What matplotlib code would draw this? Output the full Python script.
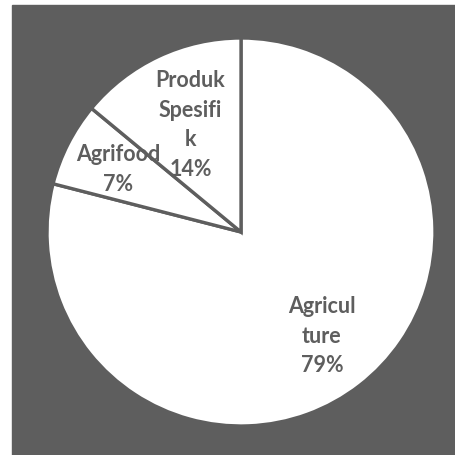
import numpy as np
import matplotlib

matplotlib.use("Agg")
import matplotlib.pyplot as plt  # noqa: E402
from matplotlib.patches import Rectangle  # noqa: E402

# data, clockwise from 12 o'clock
labels = ["Agricul\nture", "Agrifood", "Produk\nSpesifi\nk"]
shares = [79, 7, 14]

GRAY = "#5e5e5e"
LABEL_R = [0.68, 0.71, 0.61]  # radial position of each label (fraction of radius)

fig = plt.figure(figsize=(4.55, 4.55), dpi=100, facecolor="white")
# dark chart area
fig.add_artist(Rectangle((12 / 455, 0), 443 / 455, 450 / 455,
                         transform=fig.transFigure, color=GRAY, zorder=0))

ax = fig.add_axes([12 / 455, 0, 443 / 455, 450 / 455])
wedges, _ = ax.pie(shares, startangle=90, counterclock=False,
                   colors=["white"] * len(shares),
                   wedgeprops=dict(edgecolor=GRAY, linewidth=2.4))

for w, lab, v, r in zip(wedges, labels, shares, LABEL_R):
    mid = np.deg2rad((w.theta1 + w.theta2) / 2)
    ax.text(r * np.cos(mid), r * np.sin(mid), f"{lab}\n{v}%",
            ha="center", va="center", color=GRAY, fontsize=15.5,
            fontweight="bold", family=["Lato", "DejaVu Sans"],
            linespacing=1.5, zorder=5)

ax.set_aspect("auto")
ax.set_xlim(-229 / 194, 214 / 194)
ax.set_ylim(-223 / 194, 227 / 194)
ax.axis("off")

fig.savefig("out.png", dpi=100, facecolor="white")
